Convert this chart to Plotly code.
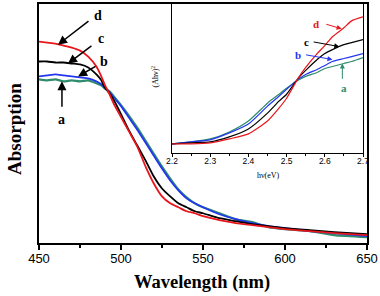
import plotly.graph_objects as go

# ---------- main spectra ----------
wavelength = [450, 455, 460, 465, 470, 475, 480, 485, 488, 490, 493, 496, 500, 505, 510,
              515, 520, 525, 530, 535, 540, 545, 550, 560, 570, 580, 590, 600, 615, 630, 650]
abs_a = [1.65, 1.64, 1.65, 1.63, 1.64, 1.63, 1.64, 1.61, 1.59, 1.56, 1.53, 1.47, 1.39, 1.28, 1.16,
         1.03, 0.90, 0.77, 0.65, 0.54, 0.46, 0.40, 0.36, 0.30, 0.24, 0.21, 0.16, 0.14, 0.12, 0.08, 0.06]
abs_b = [1.68, 1.69, 1.70, 1.69, 1.68, 1.67, 1.66, 1.63, 1.60, 1.57, 1.52, 1.46, 1.38, 1.26, 1.14,
         1.01, 0.88, 0.75, 0.63, 0.53, 0.45, 0.40, 0.36, 0.29, 0.24, 0.20, 0.17, 0.15, 0.12, 0.10, 0.07]
abs_c = [1.83, 1.83, 1.82, 1.82, 1.81, 1.80, 1.77, 1.70, 1.64, 1.57, 1.51, 1.43, 1.30, 1.13, 0.98,
         0.83, 0.67, 0.55, 0.47, 0.40, 0.36, 0.32, 0.30, 0.25, 0.22, 0.19, 0.17, 0.15, 0.13, 0.11, 0.09]
abs_d = [2.03, 2.02, 2.01, 1.99, 1.97, 1.94, 1.88, 1.78, 1.68, 1.60, 1.50, 1.39, 1.27, 1.12, 0.97,
         0.77, 0.60, 0.47, 0.40, 0.36, 0.32, 0.30, 0.27, 0.23, 0.20, 0.18, 0.16, 0.14, 0.12, 0.10, 0.08]

# ---------- inset Tauc plot ----------
hv = [2.20, 2.25, 2.30, 2.35, 2.40, 2.45, 2.48, 2.50, 2.53, 2.55, 2.58, 2.60, 2.62, 2.65, 2.67, 2.70]
tauc_a = [0.09, 0.11, 0.14, 0.21, 0.32, 0.50, 0.59, 0.65, 0.73, 0.77, 0.81, 0.85, 0.87, 0.90, 0.92, 0.96]
tauc_b = [0.09, 0.11, 0.13, 0.20, 0.29, 0.47, 0.57, 0.64, 0.74, 0.79, 0.84, 0.88, 0.92, 0.95, 0.97, 1.00]
tauc_c = [0.09, 0.10, 0.11, 0.16, 0.24, 0.40, 0.52, 0.59, 0.75, 0.83, 0.94, 1.00, 1.04, 1.09, 1.11, 1.14]
tauc_d = [0.09, 0.09, 0.10, 0.14, 0.19, 0.32, 0.45, 0.55, 0.75, 0.86, 1.00, 1.08, 1.17, 1.26, 1.33, 1.37]

main_ticks = [450, 500, 550, 600, 650]
inset_ticks = [2.2, 2.3, 2.4, 2.5, 2.6, 2.7]

RED = "#e8161c"
BLACK = "#000000"
BLUE = "#2436f0"
GREEN = "#2e8c6c"
SERIF = "Liberation Serif"
SANS = "Liberation Sans"

fig = go.Figure()
for y, c, w in [(abs_a, GREEN, 2.2), (abs_b, BLUE, 1.8), (abs_c, BLACK, 1.8), (abs_d, RED, 1.8)]:
    fig.add_trace(go.Scatter(x=wavelength, y=y, mode="lines", line=dict(color=c, width=w, shape="spline", smoothing=0.6),
                             xaxis="x", yaxis="y", showlegend=False, hoverinfo="skip"))
for y, c in [(tauc_a, GREEN), (tauc_b, BLUE), (tauc_c, BLACK), (tauc_d, RED)]:
    fig.add_trace(go.Scatter(x=hv, y=y, mode="lines", line=dict(color=c, width=1.2, shape="spline", smoothing=0.6),
                             xaxis="x2", yaxis="y2", showlegend=False, hoverinfo="skip"))

L, R, T, B = 39, 13, 2, 53
W, H = 380, 296
pw, ph = W - L - R, H - T - B

def px(xp):
    return (xp - L) / pw

def py(yp):
    return (H - B - yp) / ph

fig.update_layout(
    width=W, height=H, margin=dict(l=L, r=R, t=T, b=B),
    paper_bgcolor="white", plot_bgcolor="white",
    xaxis=dict(range=[450, 650], tickvals=main_ticks, ticks="outside", ticklen=5, tickwidth=1.5,
               tickcolor="black", showline=True, linecolor="black", linewidth=2, mirror=True,
               showgrid=False, zeroline=False, ticklabelstandoff=-3,
               tickfont=dict(family=SANS, size=13, color="black"),
               minor=dict(dtick=25, tick0=450, ticks="outside", ticklen=3, tickcolor="black", showgrid=False)),
    yaxis=dict(range=[0, 2.41], showticklabels=False, ticks="", showline=True, linecolor="black",
               linewidth=2, mirror=True, showgrid=False, zeroline=False),
    xaxis2=dict(domain=[px(172), px(363)], anchor="y2", range=[2.2, 2.7], tickvals=inset_ticks,
                ticktext=["2.2", "2.3", "2.4", "2.5", "2.6", "2.7"],
                ticks="outside", ticklen=3, tickcolor="black", showline=True, linecolor="black",
                linewidth=1.2, mirror=True, showgrid=False, zeroline=False, ticklabelstandoff=-3,
                tickfont=dict(family=SANS, size=8.5, color="black"),
                minor=dict(dtick=0.05, tick0=2.2, ticks="outside", ticklen=2, tickcolor="black", showgrid=False)),
    yaxis2=dict(domain=[py(152), py(2)], anchor="x2", range=[0, 1.5], showticklabels=False, ticks="",
                showline=True, linecolor="black", linewidth=1.2, mirror=True, showgrid=False, zeroline=False),
)

ann = []
C = dict(xanchor="center", yanchor="middle", showarrow=False)
# axis titles
ann.append(dict(text="<b>Absorption</b>", xref="paper", yref="paper", x=px(15), y=py(128), textangle=-90,
                font=dict(family=SERIF, size=19, color="black"), **C))
ann.append(dict(text="<b>Wavelength (nm)</b>", xref="paper", yref="paper", x=px(202), y=py(283),
                font=dict(family=SERIF, size=18.5, color="black"), **C))
ann.append(dict(text="(Ahν)<sup>2</sup>", xref="paper", yref="paper", x=px(155), y=py(75), textangle=-90,
                font=dict(family=SERIF, size=8, color="black"), **C))
ann.append(dict(text="hν(eV)", xref="paper", yref="paper", x=px(268), y=py(175),
                font=dict(family=SERIF, size=8, color="black"), **C))

# main plot labels: (label, head, tail, text position)
main_labels = [("d", (461.6, 2.00), (481.1, 2.25), (486.0, 2.29)),
               ("c", (467.7, 1.81), (482.9, 2.00), (487.5, 2.06)),
               ("b", (473.8, 1.68), (485.4, 1.79), (489.8, 1.83)),
               ("a", (464.0, 1.63), (464.0, 1.36), (464.0, 1.25))]
for lab, hd, tl, tp in main_labels:
    ann.append(dict(text="", x=hd[0], y=hd[1], ax=tl[0], ay=tl[1], xref="x", yref="y", axref="x", ayref="y",
                    showarrow=True, arrowhead=2, arrowsize=1.2, arrowwidth=1.5, arrowcolor="black"))
    ann.append(dict(text="<b>%s</b>" % lab, x=tp[0], y=tp[1], xref="x", yref="y",
                    font=dict(family=SERIF, size=14, color="black"), **C))

inset_labels = [("d", RED, (2.644, 1.25), (2.600, 1.30), (2.578, 1.30)),
                ("c", BLACK, (2.638, 1.07), (2.567, 1.12), (2.552, 1.12)),
                ("b", BLUE, (2.620, 0.94), (2.547, 0.99), (2.529, 0.99)),
                ("a", GREEN, (2.646, 0.90), (2.646, 0.73), (2.650, 0.65))]
for lab, col, hd, tl, tp in inset_labels:
    ann.append(dict(text="", x=hd[0], y=hd[1], ax=tl[0], ay=tl[1], xref="x2", yref="y2", axref="x2", ayref="y2",
                    showarrow=True, arrowhead=2, arrowsize=1, arrowwidth=1, arrowcolor=col))
    ann.append(dict(text="<b>%s</b>" % lab, x=tp[0], y=tp[1], xref="x2", yref="y2",
                    font=dict(family=SERIF, size=11, color=col), **C))

fig.update_layout(annotations=ann)
fig.write_html("out.html", config={"displayModeBar": False},
               post_script="document.body.style.margin='0';")
